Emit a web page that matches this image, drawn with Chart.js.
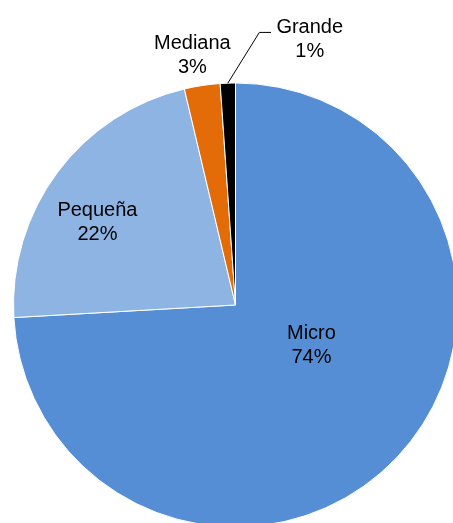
<!DOCTYPE html>
<html>
<head>
<meta charset="utf-8">
<script src="https://cdn.jsdelivr.net/npm/chart.js@4/dist/chart.umd.min.js"></script>
<style>
	html, body { margin: 0; padding: 0; background: #fff; overflow: hidden; width: 453px; height: 523px; }
	#wrap { position: absolute; left: 0; top: 0; width: 480px; height: 560px; }
</style>
</head>
<body>
<div id="wrap"><canvas id="chart" width="480" height="560"></canvas></div>
<script>
// company size shares (%), clockwise from 12 o'clock
const categories = ["Micro", "Pequeña", "Mediana", "Grande"];
const shares = [74.1, 22.2, 2.6, 1.1];
const sliceColors = ["#558ED5", "#8EB4E3", "#E36C09", "#000000"];

// where each label sits: distance as share of the radius, turn (deg) from the slice middle
const labelPlace = [
	{ dist: 0.385, turn: -16.1 }
	, { dist: 0.728, turn: -5.4 }
	, { dist: 1.149, turn: -1.1 }
	, { dist: 1.250, turn: 17.5, leader: true }
];

const sliceLabels = {
	id: "sliceLabels"
	, afterDatasetsDraw(chart) {
		const ctx = chart.ctx;
		const arcs = chart.getDatasetMeta(0).data;
		const values = chart.data.datasets[0].data;
		ctx.save();
		ctx.font = '20px "Liberation Sans", Arial, sans-serif';
		ctx.fillStyle = "#000";
		ctx.strokeStyle = "#000";
		ctx.lineWidth = 1;
		ctx.textAlign = "center";
		ctx.textBaseline = "alphabetic";
		arcs.forEach((arc, i) => {
			const p = labelPlace[i];
			const mid = (arc.startAngle + arc.endAngle) / 2;
			const a = mid + p.turn * Math.PI / 180;
			const lx = arc.x + Math.cos(a) * arc.outerRadius * p.dist;
			const ly = arc.y + Math.sin(a) * arc.outerRadius * p.dist;
			if (p.leader) {
				// elbow line from the slice edge to the label
				ctx.beginPath();
				ctx.moveTo(arc.x + Math.cos(mid) * arc.outerRadius, arc.y + Math.sin(mid) * arc.outerRadius);
				ctx.lineTo(lx - 50.4, ly - 5.2);
				ctx.lineTo(lx - 38.7, ly - 5.2);
				ctx.stroke();
			}
			ctx.fillText(chart.data.labels[i], lx, ly - 4.85);
			ctx.fillText(Math.round(values[i]) + "%", lx, ly + 19.15);
		});
		ctx.restore();
	}
};

new Chart(document.getElementById("chart"), {
	type: "pie"
	, data: {
		labels: categories
		, datasets: [{
			data: shares
			, backgroundColor: sliceColors
			, borderColor: "#ffffff"
			, borderWidth: 1
		}]
	}
	, options: {
		responsive: false
		, animation: false
		, layout: { padding: { left: 13, top: 82.5, right: 22, bottom: 32.5 } }
		, plugins: {
			legend: { display: false }
			, tooltip: { enabled: false }
		}
	}
	, plugins: [sliceLabels]
});
</script>
</body>
</html>
